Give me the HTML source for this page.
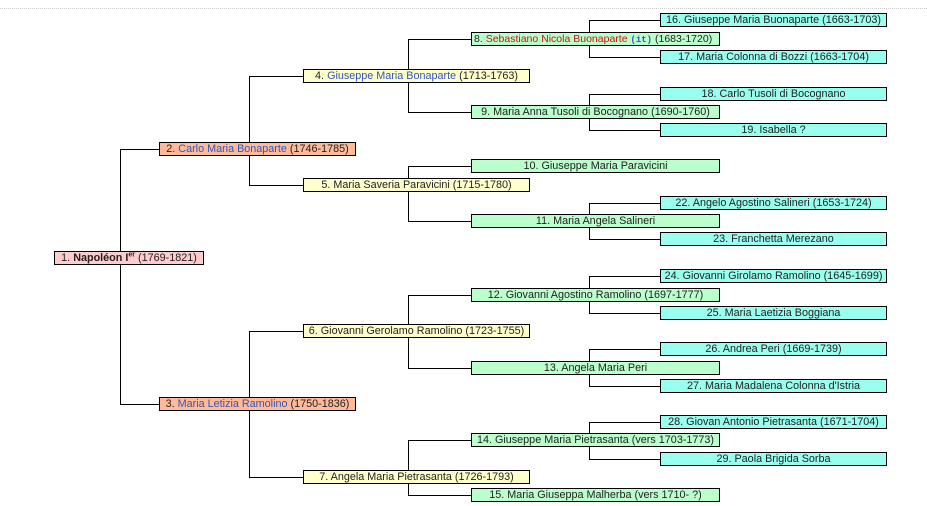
<!DOCTYPE html>
<html><head><meta charset="utf-8"><style>
body{margin:0;width:927px;height:506px;background:#fff;position:relative;overflow:hidden;font-family:"Liberation Sans",Arial,sans-serif;}
.b{position:absolute;box-sizing:border-box;height:14px;border:1px solid #000;font-size:10.8px;line-height:13px;text-align:center;white-space:nowrap;color:#222;overflow:hidden}
.l1{background:#ffcccc;left:54px;width:150px}
.l2{background:#ffbb99;left:159px;width:197px}
.l3{background:#ffffcc;left:303px;width:227px}
.l4{background:#bbffcc;left:471px;width:249px}
.l5{background:#99ffee;left:660px;width:227px}
.a{color:#3355bb}.r{color:#cc1111}
.v{position:absolute;width:1px;background:#000}
.h{position:absolute;height:1px;background:#000}
.top{position:absolute;left:0;top:8px;width:927px;border-top:1px dotted #ccc}
</style></head><body>
<div class="top"></div>
<div class="v" style="left:120px;top:149px;height:256px"></div>
<div class="h" style="left:120px;top:149px;width:39px"></div>
<div class="h" style="left:120px;top:404px;width:39px"></div>

<div class="v" style="left:249px;top:76px;height:110px"></div>
<div class="h" style="left:249px;top:76px;width:54px"></div>
<div class="h" style="left:249px;top:185px;width:54px"></div>
<div class="v" style="left:249px;top:331px;height:147px"></div>
<div class="h" style="left:249px;top:331px;width:54px"></div>
<div class="h" style="left:249px;top:477px;width:54px"></div>

<div class="v" style="left:408px;top:39px;height:74px"></div>
<div class="h" style="left:408px;top:39px;width:63px"></div>
<div class="h" style="left:408px;top:112px;width:63px"></div>
<div class="v" style="left:408px;top:166px;height:56px"></div>
<div class="h" style="left:408px;top:166px;width:63px"></div>
<div class="h" style="left:408px;top:221px;width:63px"></div>
<div class="v" style="left:408px;top:295px;height:74px"></div>
<div class="h" style="left:408px;top:295px;width:63px"></div>
<div class="h" style="left:408px;top:368px;width:63px"></div>
<div class="v" style="left:408px;top:440px;height:56px"></div>
<div class="h" style="left:408px;top:440px;width:63px"></div>
<div class="h" style="left:408px;top:495px;width:63px"></div>

<div class="v" style="left:589px;top:20px;height:38px"></div>
<div class="h" style="left:589px;top:20px;width:71px"></div>
<div class="h" style="left:589px;top:57px;width:71px"></div>
<div class="v" style="left:589px;top:94px;height:37px"></div>
<div class="h" style="left:589px;top:94px;width:71px"></div>
<div class="h" style="left:589px;top:130px;width:71px"></div>
<div class="v" style="left:589px;top:203px;height:37px"></div>
<div class="h" style="left:589px;top:203px;width:71px"></div>
<div class="h" style="left:589px;top:239px;width:71px"></div>
<div class="v" style="left:589px;top:276px;height:38px"></div>
<div class="h" style="left:589px;top:276px;width:71px"></div>
<div class="h" style="left:589px;top:313px;width:71px"></div>
<div class="v" style="left:589px;top:349px;height:38px"></div>
<div class="h" style="left:589px;top:349px;width:71px"></div>
<div class="h" style="left:589px;top:386px;width:71px"></div>
<div class="v" style="left:589px;top:422px;height:38px"></div>
<div class="h" style="left:589px;top:422px;width:71px"></div>
<div class="h" style="left:589px;top:459px;width:71px"></div>

<div class="b l1" style="top:251px">1. <b>Napoléon I<sup style="font-size:7px;line-height:0">er</sup></b> (1769-1821)</div>

<div class="b l2" style="top:142px">2. <span class="a">Carlo Maria Bonaparte</span> (1746-1785)</div>
<div class="b l2" style="top:397px">3. <span class="a">Maria Letizia Ramolino</span> (1750-1836)</div>

<div class="b l3" style="top:69px">4. <span class="a">Giuseppe Maria Bonaparte</span> (1713-1763)</div>
<div class="b l3" style="top:178px">5. Maria Saveria Paravicini (1715-1780)</div>
<div class="b l3" style="top:324px">6. Giovanni Gerolamo Ramolino (1723-1755)</div>
<div class="b l3" style="top:470px">7. Angela Maria Pietrasanta (1726-1793)</div>

<div class="b l4" style="top:32px;text-align:left;padding-left:2px;font-size:10.5px">8. <span class="r">Sebastiano Nicola Buonaparte</span> <span class="a" style="font-family:'Liberation Mono',monospace;font-size:9px;font-weight:bold">(it)</span> (1683-1720)</div>
<div class="b l4" style="top:105px">9. Maria Anna Tusoli di Bocognano (1690-1760)</div>
<div class="b l4" style="top:159px">10. Giuseppe Maria Paravicini</div>
<div class="b l4" style="top:214px">11. Maria Angela Salineri</div>
<div class="b l4" style="top:288px">12. Giovanni Agostino Ramolino (1697-1777)</div>
<div class="b l4" style="top:361px">13. Angela Maria Peri</div>
<div class="b l4" style="top:433px">14. Giuseppe Maria Pietrasanta (vers 1703-1773)</div>
<div class="b l4" style="top:488px">15. Maria Giuseppa Malherba (vers 1710- ?)</div>

<div class="b l5" style="top:13px">16. Giuseppe Maria Buonaparte (1663-1703)</div>
<div class="b l5" style="top:50px">17. Maria Colonna di Bozzi (1663-1704)</div>
<div class="b l5" style="top:87px">18. Carlo Tusoli di Bocognano</div>
<div class="b l5" style="top:123px">19. Isabella ?</div>
<div class="b l5" style="top:196px">22. Angelo Agostino Salineri (1653-1724)</div>
<div class="b l5" style="top:232px">23. Franchetta Merezano</div>
<div class="b l5" style="top:269px">24. Giovanni Girolamo Ramolino (1645-1699)</div>
<div class="b l5" style="top:306px">25. Maria Laetizia Boggiana</div>
<div class="b l5" style="top:342px">26. Andrea Peri (1669-1739)</div>
<div class="b l5" style="top:379px">27. Maria Madalena Colonna d'Istria</div>
<div class="b l5" style="top:415px">28. Giovan Antonio Pietrasanta (1671-1704)</div>
<div class="b l5" style="top:452px">29. Paola Brigida Sorba</div>
</body></html>
